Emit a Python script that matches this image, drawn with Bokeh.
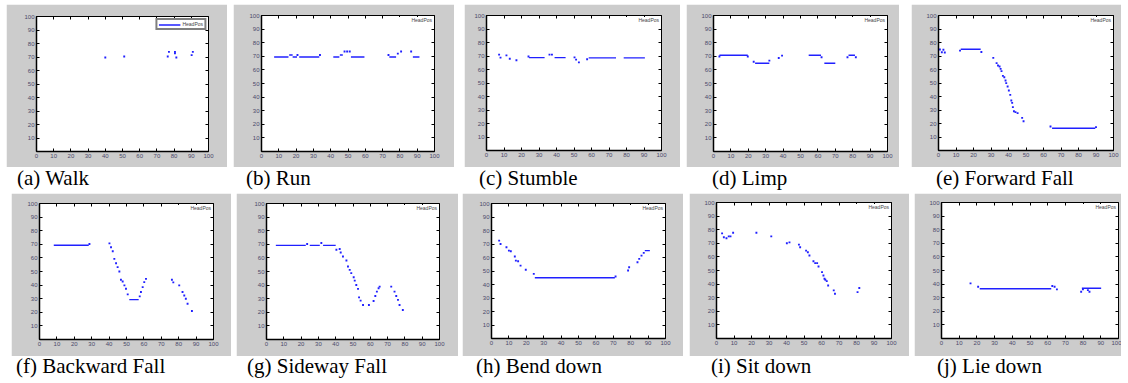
import numpy as np
from bokeh.plotting import figure
from bokeh.models import Range1d, FixedTicker, LinearAxis, Div, Legend, LegendItem
from bokeh.layouts import row, column
from bokeh.embed import file_html
from bokeh.resources import INLINE

captions = ["(a) Walk", "(b) Run", "(c) Stumble", "(d) Limp", "(e) Forward Fall",
            "(f) Backward Fall", "(g) Sideway Fall", "(h) Bend down", "(i) Sit down", "(j) Lie down"]
legend_label = "HeadPos"
x_ticks = [0, 10, 20, 30, 40, 50, 60, 70, 80, 90, 100]
y_ticks = [10, 20, 30, 40, 50, 60, 70, 80, 90, 100]

# (a) Walk
walk_px = [40.0, 51.0, 76.3, 77.0, 80.5, 80.5, 81.3, 90.2, 90.9]
walk_py = [69.6, 70.4, 70.4, 73.8, 73.8, 72.8, 69.6, 71.4, 73.8]
walk_rx0, walk_rx1, walk_ry = [], [], []

# (b) Run
run_px = [20.8, 33.8, 48.0, 49.5, 51.0, 73.4, 78.8, 80.7, 86.5]
run_py = [71.0, 71.0, 73.5, 73.5, 73.5, 71.0, 72.0, 73.5, 73.5]
run_rx0 = [7.3, 16.0, 18.0, 21.8, 41.5, 45.3, 51.7, 73.9, 87.5]
run_rx1 = [15.6, 18.0, 20.5, 33.4, 45.0, 47.0, 59.5, 77.8, 91.3]
run_ry = [69.5, 71.0, 69.5, 69.5, 69.5, 71.0, 69.5, 69.5, 69.5]

# (c) Stumble
stumble_px = [7.2, 8.0, 11.4, 13.3, 17.1, 24.0, 36.0, 37.4, 50.3, 51.2, 52.8, 57.5]
stumble_py = [71.0, 68.8, 70.5, 68.0, 66.8, 69.6, 71.0, 71.0, 69.0, 67.3, 65.3, 67.6]
stumble_rx0 = [24.3, 38.9, 58.4, 78.4]
stumble_rx1 = [33.2, 45.2, 74.0, 90.5]
stumble_ry = [68.8, 68.8, 68.6, 68.6]

# (d) Limp
limp_px = [3.4, 19.7, 23.1, 32.1, 37.5, 39.4, 62.1, 77.0, 81.8]
limp_py = [69.8, 69.8, 66.0, 66.8, 68.8, 70.5, 69.3, 69.3, 69.3]
limp_rx0 = [3.4, 23.9, 54.7, 63.7, 77.6]
limp_rx1 = [19.7, 32.1, 61.8, 70.0, 81.3]
limp_ry = [70.8, 64.9, 70.8, 64.9, 70.8]

# (e) Forward Fall
ffall_px = [0.8, 1.9, 2.8, 3.6, 12.3, 24.5, 31.3, 33.2, 34.0, 34.9, 35.5, 36.0, 36.8, 37.6,
            38.3, 38.7, 39.5, 40.2, 41.0, 41.6, 42.1, 42.5, 43.1, 44.0, 45.2, 47.8, 48.6, 64.0, 90.0]
ffall_py = [74.8, 72.8, 74.6, 72.6, 74.0, 73.0, 68.6, 64.7, 63.0, 62.2, 60.5, 58.8, 55.3, 54.3,
            51.9, 49.9, 47.4, 44.4, 41.2, 37.0, 35.3, 32.1, 29.1, 28.4, 27.7, 24.2, 21.7, 17.8, 17.3]
ffall_rx0 = [12.7, 64.9]
ffall_rx1 = [24.1, 89.6]
ffall_ry = [75.0, 16.5]

# (f) Backward Fall
bfall_px = [28.7, 40.2, 41.1, 42.1, 43.0, 44.0, 44.9, 45.9, 46.8, 47.8, 48.8, 49.7, 50.7,
            57.6, 58.3, 59.3, 60.2, 61.2, 76.1, 76.9, 80.3, 82.2, 83.2, 84.1, 85.1, 87.6]
bfall_py = [70.2, 70.7, 67.8, 64.9, 59.3, 56.1, 53.2, 50.0, 43.9, 42.7, 39.8, 37.3, 33.2,
            31.7, 34.9, 38.5, 42.2, 44.6, 43.9, 42.0, 39.8, 34.9, 32.4, 30.0, 26.3, 21.0]
bfall_rx0 = [8.2, 51.6]
bfall_rx1 = [28.3, 57.0]
bfall_ry = [69.3, 29.3]

# (g) Sideway Fall
sfall_px = [23.5, 31.7, 40.4, 42.3, 42.9, 44.2, 46.2, 47.1, 48.1, 49.0, 50.4, 51.0, 51.9, 52.9,
            53.5, 54.4, 55.8, 59.2, 61.9, 62.9, 63.8, 64.8, 65.4, 72.1, 74.0, 75.0, 76.0, 76.9, 78.8]
sfall_py = [70.2, 71.0, 66.0, 66.5, 64.0, 61.0, 58.1, 53.7, 51.2, 48.8, 45.8, 43.3, 40.1, 37.2,
            31.0, 28.6, 25.4, 25.4, 28.3, 32.0, 35.2, 37.7, 38.9, 38.9, 35.2, 32.0, 29.1, 25.4, 21.7]
sfall_rx0 = [5.4, 25.0, 32.7]
sfall_rx1 = [22.7, 30.8, 40.0]
sfall_ry = [69.2, 69.2, 69.2]

# (h) Bend down
bend_px = [4.4, 5.2, 8.6, 10.0, 11.1, 13.4, 14.0, 15.3, 16.7, 19.7, 24.3, 71.3,
           78.5, 79.1, 83.9, 84.9, 86.2, 87.5]
bend_py = [72.5, 70.0, 67.6, 65.1, 64.6, 60.7, 57.7, 57.2, 54.0, 50.9, 47.9, 45.9,
           50.4, 52.8, 56.5, 59.0, 61.4, 63.4]
bend_rx0 = [24.9, 88.1]
bend_rx1 = [70.9, 91.0]
bend_ry = [45.0, 65.1]

# (i) Sit down
sit_px = [3.2, 4.2, 5.7, 7.0, 8.0, 9.5, 22.8, 31.3, 40.2, 41.7, 47.1, 47.8, 51.2, 52.2, 53.1,
          55.4, 56.4, 57.5, 58.3, 60.3, 61.1, 61.7, 62.2, 63.0, 63.8, 67.0, 67.7, 80.6, 81.6]
sit_py = [77.3, 74.4, 73.7, 75.1, 75.1, 77.8, 77.8, 75.1, 70.0, 70.7, 69.0, 67.1, 64.6, 63.4, 61.0,
          56.8, 55.4, 55.4, 52.9, 48.8, 46.3, 43.9, 43.2, 42.2, 39.0, 35.4, 32.9, 34.1, 37.1]
sit_rx0, sit_rx1, sit_ry = [], [], []

# (j) Lie down
lie_px = [16.4, 20.7, 62.6, 63.9, 65.2, 78.9, 79.9, 82.7, 83.6]
lie_py = [40.5, 38.1, 38.6, 38.1, 36.1, 34.4, 36.1, 35.6, 34.4]
lie_rx0 = [21.6, 79.3]
lie_rx1 = [62.0, 90.2]
lie_ry = [36.6, 36.9]

panels_data = [
    (walk_px, walk_py, walk_rx0, walk_rx1, walk_ry),
    (run_px, run_py, run_rx0, run_rx1, run_ry),
    (stumble_px, stumble_py, stumble_rx0, stumble_rx1, stumble_ry),
    (limp_px, limp_py, limp_rx0, limp_rx1, limp_ry),
    (ffall_px, ffall_py, ffall_rx0, ffall_rx1, ffall_ry),
    (bfall_px, bfall_py, bfall_rx0, bfall_rx1, bfall_ry),
    (sfall_px, sfall_py, sfall_rx0, sfall_rx1, sfall_ry),
    (bend_px, bend_py, bend_rx0, bend_rx1, bend_ry),
    (sit_px, sit_py, sit_rx0, sit_rx1, sit_ry),
    (lie_px, lie_py, lie_rx0, lie_rx1, lie_ry),
]

# layout geometry: (gap_left, width, border L, R, T, B, caption_indent)
geo_top = [(6, 221, 30, 19, 12, 16, 11),
           (6, 221, 28, 20, 11, 16, 13),
           (10, 216, 22, 19, 11, 17, 15),
           (6, 213, 27, 12, 11, 16, 26),
           (12, 210, 27, 8, 11, 17, 25)]
geo_bot = [(11, 220, 28, 18, 10, 17, 5),
           (5, 222, 30, 19, 10, 17, 11),
           (4, 221, 29, 18, 10, 18, 14),
           (6, 220, 27, 18, 9, 18, 22),
           (5, 207, 27, 3, 9, 18, 23)]

GRAY = "#cccccc"
BLUE = "#2020ff"
LABEL_COLOR = "#4a4a6a"


def make_panel(i, geo, cap_top):
    gap, w, L, R, T, B, cap = geo
    px, py, rx0, rx1, ry = panels_data[i]
    p = figure(width=w, height=163, x_range=Range1d(0, 100), y_range=Range1d(0, 100),
               output_backend="svg", toolbar_location=None,
               min_border_left=L, min_border_right=R, min_border_top=T, min_border_bottom=B,
               border_fill_color=GRAY, background_fill_color="white",
               outline_line_color="black", outline_line_width=1)
    p.grid.visible = False
    p.xaxis.ticker = FixedTicker(ticks=x_ticks)
    p.yaxis.ticker = FixedTicker(ticks=y_ticks)
    for ax in (p.xaxis[0], p.yaxis[0]):
        ax.major_tick_in = 3
        ax.major_tick_out = 0
        ax.minor_tick_line_color = None
        ax.axis_line_color = "black"
        ax.axis_line_width = 1.5
        ax.major_tick_line_color = "black"
        ax.major_label_text_font_size = "6px"
        ax.major_label_text_font = "Liberation Sans"
        ax.major_label_text_color = LABEL_COLOR
        ax.major_label_standoff = 2
    top = LinearAxis(ticker=FixedTicker(ticks=x_ticks))
    right = LinearAxis(ticker=FixedTicker(ticks=y_ticks))
    for ax in (top, right):
        ax.major_tick_in = 3
        ax.major_tick_out = 0
        ax.minor_tick_line_color = None
        ax.axis_line_color = None
        ax.major_tick_line_color = "black"
        ax.major_label_text_font_size = "1px"
        ax.major_label_text_alpha = 0
        ax.major_label_standoff = 0
    p.add_layout(top, "above")
    p.add_layout(right, "right")

    if rx0:
        p.segment(x0=rx0, y0=ry, x1=rx1, y1=ry, line_color=BLUE, line_width=1.4)
    if px:
        p.scatter(px, py, size=1.9, marker="square", fill_color=BLUE, line_color=None)
    leg_r = p.line(x=[np.nan], y=[np.nan], line_color=BLUE, line_width=1.5,
                   line_alpha=1 if i == 0 else 0)
    legend = Legend(items=[LegendItem(label=legend_label, renderers=[leg_r])],
                    location="top_right", label_text_font_size="5px", label_height=5,
                    glyph_height=5, glyph_width=22, padding=1, spacing=0, margin=2,
                    label_standoff=2, label_text_font="Liberation Sans",
                    border_line_color="black" if i == 0 else None, border_line_width=2,
                    background_fill_alpha=1.0)
    p.add_layout(legend)

    div = Div(text=captions[i], width=w - cap, height=23, margin=(cap_top, 0, 0, cap),
              styles={"font-family": "'Liberation Serif', 'Times New Roman', serif",
                      "font-size": "21px", "line-height": "21px", "color": "black",
                      "white-space": "nowrap"})
    return column(p, div, spacing=0, margin=(0, 0, 0, gap))


top_cols = [make_panel(i, geo_top[i], 1) for i in range(5)]
bot_cols = [make_panel(i + 5, geo_bot[i], 0) for i in range(5)]

row_top = row(*top_cols, spacing=0, margin=(4, 0, 0, 0))
row_bot = row(*bot_cols, spacing=0, margin=(2, 0, 0, 0))
root = column(row_top, row_bot, spacing=0, margin=(0, 0, 0, 0))

open("out.html", "w").write(file_html(root, INLINE))
